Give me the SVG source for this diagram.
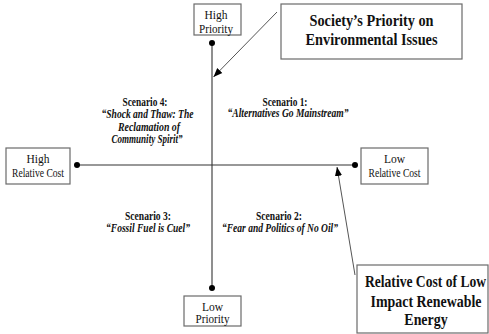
<svg xmlns="http://www.w3.org/2000/svg" width="489" height="334" viewBox="0 0 489 334">
<style>
.box{fill:#fff;stroke:#6a6a6a;stroke-width:1.2}
.ax{stroke:#333;stroke-width:1.1;fill:none}
.ptr{stroke:#555;stroke-width:1;fill:none}
.dot{fill:#000}
text{font-family:"Liberation Serif","Times New Roman",serif;fill:#111;text-anchor:middle}
.sm{font-size:11.5px}
.sc{font-size:11.5px;font-weight:bold}
.it{font-style:italic}
.big{font-size:16px;font-weight:bold}
</style>
<defs>
<marker id="ah" viewBox="0 0 10 10" refX="10" refY="5" markerWidth="9" markerHeight="9" markerUnits="userSpaceOnUse" orient="auto">
<path d="M0,1 L10,5 L0,9 Z" fill="#000"/>
</marker>
</defs>
<g id="connectors">
<line class="ax" x1="212" y1="43" x2="212" y2="288"/>
<line class="ax" x1="77" y1="165" x2="355" y2="165"/>
<circle class="dot" cx="212" cy="43" r="3"/>
<circle class="dot" cx="212" cy="288" r="3"/>
<circle class="dot" cx="77" cy="165" r="3"/>
<circle class="dot" cx="355" cy="165" r="3"/>
<line class="ptr" x1="277" y1="12" x2="213.5" y2="77" marker-end="url(#ah)"/>
<line class="ptr" x1="355" y1="275" x2="337" y2="167" marker-end="url(#ah)"/>
</g>
<g id="high-priority">
<rect class="box" x="194" y="4" width="47" height="31"/>
<text class="sm" x="216" y="19">High</text>
<text class="sm" x="216" y="32.5" textLength="34" lengthAdjust="spacingAndGlyphs">Priority</text>
</g>
<g id="low-priority">
<rect class="box" x="184" y="296" width="57" height="30"/>
<text class="sm" x="212.5" y="311">Low</text>
<text class="sm" x="212.5" y="323" textLength="34" lengthAdjust="spacingAndGlyphs">Priority</text>
</g>
<g id="high-cost">
<rect class="box" x="6" y="148" width="64" height="36"/>
<text class="sm" x="38" y="163">High</text>
<text class="sm" x="38" y="176.5" textLength="52" lengthAdjust="spacingAndGlyphs">Relative Cost</text>
</g>
<g id="low-cost">
<rect class="box" x="361" y="148" width="67" height="36"/>
<text class="sm" x="394.5" y="163">Low</text>
<text class="sm" x="394.5" y="176.5" textLength="52" lengthAdjust="spacingAndGlyphs">Relative Cost</text>
</g>
<g id="society-priority">
<rect class="box" x="281" y="4" width="181" height="55"/>
<text class="big" x="371.5" y="26" textLength="124" lengthAdjust="spacingAndGlyphs">Society’s Priority on</text>
<text class="big" x="371.5" y="45" textLength="132" lengthAdjust="spacingAndGlyphs">Environmental Issues</text>
</g>
<g id="relative-cost">
<rect class="box" x="357" y="265" width="131" height="68"/>
<text class="big" transform="matrix(0.85 0 0 1 425.5 287)" x="0" y="0">Relative Cost of Low</text>
<text class="big" transform="matrix(0.87 0 0 1 426 307)" x="0" y="0">Impact Renewable</text>
<text class="big" transform="matrix(0.87 0 0 1 426 325)" x="0" y="0">Energy</text>
</g>
<g id="scenario4">
<text class="sc" x="145" y="106" textLength="45" lengthAdjust="spacingAndGlyphs">Scenario 4:</text>
<text class="sc it" x="147.5" y="118" textLength="92" lengthAdjust="spacingAndGlyphs">“Shock and Thaw: The</text>
<text class="sc it" x="149" y="131" textLength="62" lengthAdjust="spacingAndGlyphs">Reclamation of</text>
<text class="sc it" x="147" y="143" textLength="71" lengthAdjust="spacingAndGlyphs">Community Spirit”</text>
</g>
<g id="scenario1">
<text class="sc" x="285" y="106" textLength="45" lengthAdjust="spacingAndGlyphs">Scenario 1:</text>
<text class="sc it" x="288" y="117" textLength="121" lengthAdjust="spacingAndGlyphs">“Alternatives Go Mainstream”</text>
</g>
<g id="scenario3">
<text class="sc" x="148" y="220" textLength="46" lengthAdjust="spacingAndGlyphs">Scenario 3:</text>
<text class="sc it" x="148" y="232" textLength="84" lengthAdjust="spacingAndGlyphs">“Fossil Fuel is Cuel”</text>
</g>
<g id="scenario2">
<text class="sc" x="279" y="220" textLength="46" lengthAdjust="spacingAndGlyphs">Scenario 2:</text>
<text class="sc it" x="280" y="232" textLength="116" lengthAdjust="spacingAndGlyphs">“Fear and Politics of No Oil”</text>
</g>
</svg>
